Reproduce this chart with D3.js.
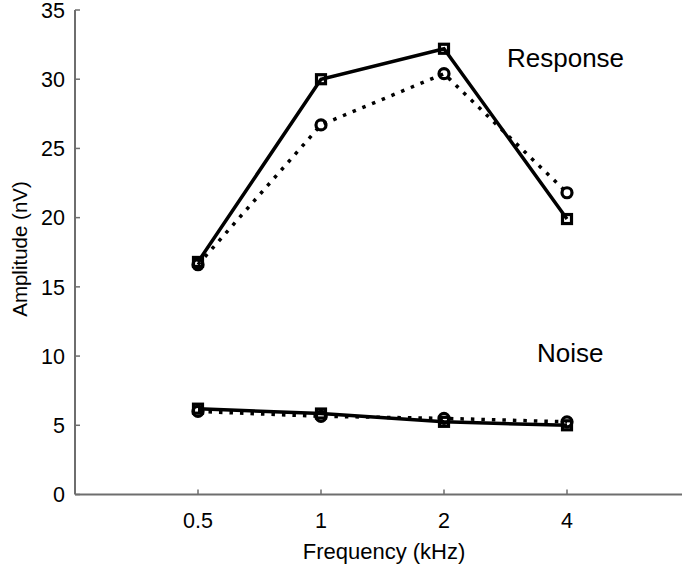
<!DOCTYPE html>
<html>
<head>
<meta charset="utf-8">
<script src="https://cdn.jsdelivr.net/npm/d3@7/dist/d3.min.js"></script>
<style>
  html, body { margin: 0; padding: 0; background: #fff; }
  svg { display: block; }
  text { font-family: "Liberation Sans", Arial, sans-serif; fill: #000; }
</style>
</head>
<body>
<svg id="chart" width="682" height="570"></svg>
<script>
const frequencies = [0.5, 1, 2, 4];
const responseSolid = [16.8, 30.0, 32.2, 19.9];   // squares, solid
const responseDotted = [16.6, 26.7, 30.4, 21.8];  // circles, dotted
const noiseSolid = [6.2, 5.85, 5.25, 5.0];        // squares, solid
const noiseDotted = [6.0, 5.65, 5.5, 5.25];       // circles, dotted
const yTicks = [0, 5, 10, 15, 20, 25, 30, 35];
const xTickLabels = ["0.5", "1", "2", "4"];

const svg = d3.select("#chart");
const x = d3.scaleLog().base(2).domain([0.25, 8]).range([75, 690]);
const y = d3.scaleLinear().domain([0, 35]).range([494.5, 10]);

const axisColor = "#6e6e6e";

// Y axis
const yAxis = svg.append("g").attr("transform", "translate(75,0)");
yAxis.append("line").attr("x1", 0).attr("x2", 0).attr("y1", y(35)).attr("y2", y(0))
  .attr("stroke", axisColor).attr("stroke-width", 2);
yAxis.selectAll(".yt").data(yTicks).enter().append("line")
  .attr("x1", 0).attr("x2", 5).attr("y1", d => y(d)).attr("y2", d => y(d))
  .attr("stroke", axisColor).attr("stroke-width", 1.5);
yAxis.selectAll(".yl").data(yTicks).enter().append("text")
  .attr("x", -10).attr("y", d => y(d)).attr("dy", "0.36em")
  .attr("text-anchor", "end").attr("font-size", 21.5).text(d => d);

// X axis
const xAxis = svg.append("g");
xAxis.append("line").attr("x1", 75).attr("x2", 682).attr("y1", y(0)).attr("y2", y(0))
  .attr("stroke", axisColor).attr("stroke-width", 2);
xAxis.selectAll(".xt").data(frequencies).enter().append("line")
  .attr("x1", d => x(d)).attr("x2", d => x(d)).attr("y1", y(0)).attr("y2", y(0) - 5)
  .attr("stroke", axisColor).attr("stroke-width", 1.5);
xAxis.selectAll(".xl").data(frequencies).enter().append("text")
  .attr("x", d => x(d)).attr("y", 528).attr("text-anchor", "middle")
  .attr("font-size", 21.5).text((d, i) => xTickLabels[i]);

// Axis titles
svg.append("text").attr("x", 384).attr("y", 559).attr("text-anchor", "middle")
  .attr("font-size", 22).text("Frequency (kHz)");
svg.append("text").attr("transform", "translate(27,249) rotate(-90)")
  .attr("text-anchor", "middle").attr("font-size", 20.5).text("Amplitude (nV)");

const line = d3.line().x(d => x(d[0])).y(d => y(d[1]));
function series(values, dotted) {
  const pts = frequencies.map((f, i) => [f, values[i]]);
  svg.append("path").attr("d", line(pts)).attr("fill", "none")
    .attr("stroke", "#000").attr("stroke-width", 3.5)
    .attr("stroke-dasharray", dotted ? "3.5,7" : null);
  return pts;
}
function circles(pts) {
  svg.append("g").selectAll("circle").data(pts).enter().append("circle")
    .attr("cx", d => x(d[0])).attr("cy", d => y(d[1])).attr("r", 5)
    .attr("fill", "none").attr("stroke", "#000").attr("stroke-width", 3.2);
}
function squares(pts) {
  const s = 9;
  svg.append("g").selectAll("rect").data(pts).enter().append("rect")
    .attr("x", d => x(d[0]) - s / 2).attr("y", d => y(d[1]) - s / 2)
    .attr("width", s).attr("height", s)
    .attr("fill", "none").attr("stroke", "#000").attr("stroke-width", 3.2);
}

const rd = series(responseDotted, true);
const rs = series(responseSolid, false);
circles(rd); squares(rs);
const nd = series(noiseDotted, true);
const ns = series(noiseSolid, false);
circles(nd); squares(ns);

// Annotations
svg.append("text").attr("x", 507).attr("y", 67).attr("font-size", 26).text("Response");
svg.append("text").attr("x", 537).attr("y", 362).attr("font-size", 26).text("Noise");
</script>
</body>
</html>
